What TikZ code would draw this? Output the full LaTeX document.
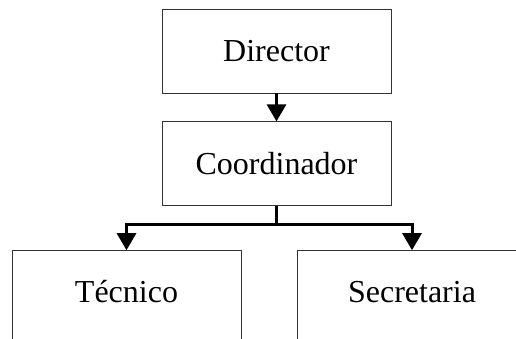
\documentclass[tikz,border=0pt]{standalone}
\usepackage{fontspec}
\setmainfont{Liberation Serif}
\usetikzlibrary{positioning}
\usetikzlibrary{arrows.meta}

\tikzset{
  post/.style={draw=black!80, line width=0.8pt, minimum width=229pt,
    minimum height=84pt, font=\fontsize{32}{38}\selectfont},
  link/.style={line width=3pt, -{Triangle[width=19pt,length=17pt]}}
}

\begin{document}
\begin{tikzpicture}[x=1pt,y=-1pt]
  \useasboundingbox (0,0) rectangle (516,339);
  \clip (0,0) rectangle (516,339);

  \begin{scope}[every node/.style={post}]
    \node at (276.5,51) (director) {Director};
    \node [below=28pt of director] (coord) {Coordinador};

    \node [below=44pt of coord, xshift=-150pt, minimum height=100pt,
      text depth=18pt] (tecnico) {Técnico};
    \node [below=44pt of coord, xshift=135.5pt, minimum height=100pt,
      text depth=18pt] (secre) {Secretaria};
  \end{scope}

  \coordinate [below=18pt of coord.south] (split);

  \draw [link] (director) -- (coord);
  \draw [line width=3pt] (coord.south) -- (split);
  \draw [link] (split) -| (tecnico.north);
  \draw [link] (split) -| (secre.north);

\end{tikzpicture}
\end{document}
